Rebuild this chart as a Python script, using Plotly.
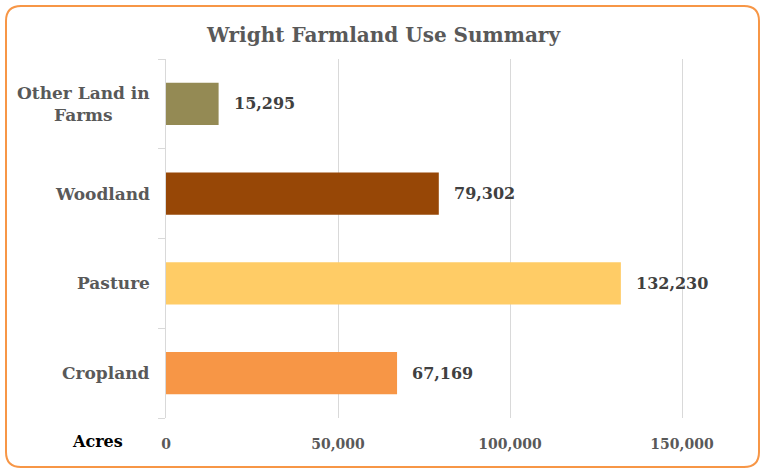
import plotly.graph_objects as go

categories = ["Cropland", "Pasture", "Woodland", "Other Land in Farms"]
labels = ["Cropland", "Pasture", "Woodland", "Other Land in<br>Farms"]
acres = [67169, 132230, 79302, 15295]
colors = ["#F79646", "#FFCC66", "#974706", "#948A54"]
tick_vals = [0, 50000, 100000, 150000]
title = "Wright Farmland Use Summary"
axis_name = "Acres"

W, H = 763, 470
L, R, T, B = 166, 44, 59, 52
PW, PH = W - L - R, H - T - B
FONT = "Georgia, 'DejaVu Serif', serif"


def px(x):
    return (x - L) / PW


def py(y):
    return (H - B - y) / PH


fig = go.Figure()
fig.add_trace(go.Bar(
    y=categories, x=acres, orientation="h",
    marker=dict(color=colors, line=dict(width=0)),
    width=0.47, hoverinfo="skip", cliponaxis=False,
))

# value labels
for c, v in zip(categories, acres):
    fig.add_annotation(x=v, y=c, xref="x", yref="y", text=f"<b>{v:,}</b>",
                       showarrow=False, xanchor="left", xshift=13,
                       font=dict(family=FONT, size=16, color="#404040"))

# category labels
for c, lab in zip(categories, labels):
    fig.add_annotation(x=px(152), y=c, xref="paper", yref="y", text=f"<b>{lab}</b>",
                       showarrow=False, xanchor="right", align="center",
                       font=dict(family=FONT, size=17, color="#595959"))

fig.add_annotation(x=px(97), y=py(441), xref="paper", yref="paper", text=f"<b>{axis_name}</b>",
                   showarrow=False, xanchor="center", yanchor="middle",
                   font=dict(family=FONT, size=16, color="#000000"))

# rounded border
x1, x2, y1, y2, r = 6, 759, 6, 467, 15
path = (f"M {px(x1 + r)} {py(y1)} L {px(x2 - r)} {py(y1)} "
        f"Q {px(x2)} {py(y1)} {px(x2)} {py(y1 + r)} "
        f"L {px(x2)} {py(y2 - r)} Q {px(x2)} {py(y2)} {px(x2 - r)} {py(y2)} "
        f"L {px(x1 + r)} {py(y2)} Q {px(x1)} {py(y2)} {px(x1)} {py(y2 - r)} "
        f"L {px(x1)} {py(y1 + r)} Q {px(x1)} {py(y1)} {px(x1 + r)} {py(y1)} Z")
fig.add_shape(type="path", path=path, xref="paper", yref="paper",
              line=dict(color="#F79646", width=2), layer="below")

fig.update_layout(
    width=W, height=H,
    margin=dict(l=L, r=R, t=T, b=B),
    paper_bgcolor="white", plot_bgcolor="white",
    showlegend=False,
    title=dict(text=f"<b>{title}</b>", x=383.5 / W, xanchor="center", xref="container",
               y=1 - 35 / H, yanchor="middle",
               font=dict(family=FONT, size=20, color="#595959")),
    xaxis=dict(range=[0, 50000 * PW / 172], tickvals=tick_vals, tickformat=",",
               showgrid=True, gridcolor="#D9D9D9", gridwidth=1, zeroline=False,
               showline=False, ticks="outside", ticklen=13, tickcolor="rgba(0,0,0,0)",
               tickfont=dict(family=FONT, size=14, color="#595959", weight="bold"),
               fixedrange=True),
    yaxis=dict(categoryorder="array", categoryarray=categories,
               showticklabels=False, showgrid=False, zeroline=False,
               showline=True, linecolor="#D9D9D9", linewidth=1,
               ticks="outside", tickson="boundaries", ticklen=7, tickcolor="#D9D9D9",
               fixedrange=True),
)

fig.write_html("out.html", post_script="document.body.style.margin='0';",
               config={"displayModeBar": False})
